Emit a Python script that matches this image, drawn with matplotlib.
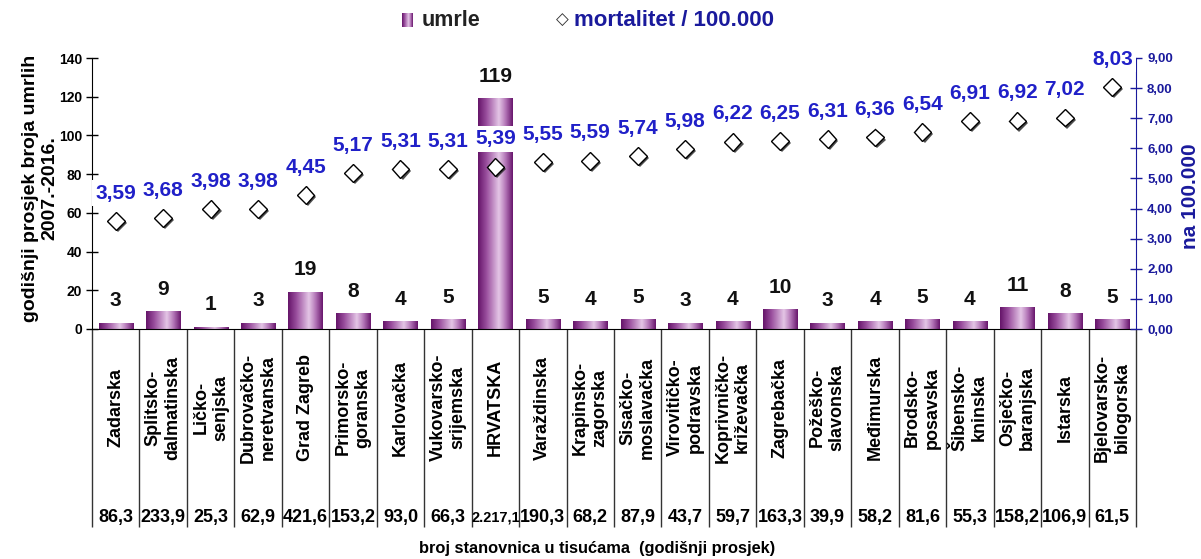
import numpy as np
import matplotlib
matplotlib.use("Agg")
import matplotlib.pyplot as plt
import matplotlib.transforms as mtransforms
import matplotlib.patheffects as pe
from matplotlib.colors import LinearSegmentedColormap

plt.rcParams['font.family'] = ['Liberation Sans', 'DejaVu Sans']
plt.rcParams['font.weight'] = 'bold'

zupanije = ["Zadarska", "Splitsko-\ndalmatinska", "Ličko-\nsenjska", "Dubrovačko-\nneretvanska",
            "Grad Zagreb", "Primorsko-\ngoranska", "Karlovačka", "Vukovarsko-\nsrijemska", "HRVATSKA",
            "Varaždinska", "Krapinsko-\nzagorska", "Sisačko-\nmoslavačka", "Virovitičko-\npodravska",
            "Koprivničko-\nkriževačka", "Zagrebačka", "Požeško-\nslavonska", "Međimurska",
            "Brodsko-\nposavska", "Šibensko-\nkninska", "Osječko-\nbaranjska", "Istarska",
            "Bjelovarsko-\nbilogorska"]
umrle = [3, 9, 1, 3, 19, 8, 4, 5, 119, 5, 4, 5, 3, 4, 10, 3, 4, 5, 4, 11, 8, 5]
mortalitet = [3.59, 3.68, 3.98, 3.98, 4.45, 5.17, 5.31, 5.31, 5.39, 5.55, 5.59, 5.74, 5.98,
              6.22, 6.25, 6.31, 6.36, 6.54, 6.91, 6.92, 7.02, 8.03]
stanovnici = ["86,3", "233,9", "25,3", "62,9", "421,6", "153,2", "93,0", "66,3", "2.217,1",
              "190,3", "68,2", "87,9", "43,7", "59,7", "163,3", "39,9", "58,2", "81,6", "55,3",
              "158,2", "106,9", "61,5"]

W, H = 1201, 559
fig = plt.figure(figsize=(W / 100, H / 100), dpi=100, facecolor="white")
ax = fig.add_axes([92 / W, 1 - 329 / H, (1136 - 92) / W, (329 - 58) / H])
ax2 = ax.twinx()

blue = "#2020c8"
navy = "#1a1a9c"

cyl = LinearSegmentedColormap.from_list(
    "cyl", [(0, "#66156a"), (0.25, "#9c52a0"), (0.6, "#e4c6e6"), (0.8, "#b274b6"), (1, "#6a186e")])
grad = np.linspace(0, 1, 64)[None, :]

x = np.arange(len(zupanije))
bw = 0.72
for xi, v in zip(x, umrle):
    ax.imshow(grad, cmap=cyl, extent=[xi - bw / 2, xi + bw / 2, 0, v], aspect="auto",
              interpolation="bilinear", zorder=2)
    ax.annotate(str(v), (xi, v), xytext=(0, 16), textcoords="offset points",
                ha="center", va="center", fontsize=15, color="#111111")

ax.set_xlim(-0.5, len(zupanije) - 0.5)
ax.set_ylim(0, 140)
ax.set_yticks(np.arange(0, 141, 20))
ax.set_xticks([])
ax.tick_params(axis="y", direction="inout", length=8, width=1, pad=3, labelsize=10)
for s in ("top", "right"):
    ax.spines[s].set_visible(False)

# mortality markers and labels
ax2.plot(x, mortalitet, ls="none", marker="D", ms=9, mfc="white", mec="black", mew=1, zorder=3,
         path_effects=[pe.SimplePatchShadow(offset=(1.5, -1.5), shadow_rgbFace="#222222", alpha=0.8),
                       pe.Normal()])
for xi, m in zip(x, mortalitet):
    ax2.annotate(f"{m:.2f}".replace(".", ","), (xi, m), xytext=(0, 20), textcoords="offset points",
                 ha="center", va="center", fontsize=15, color=blue, zorder=4,
                 bbox=dict(boxstyle="square,pad=0.15", fc="white", ec="none"))
ax2.set_ylim(0, 9)
ax2.set_yticks(np.arange(0, 10, 1))
ax2.set_yticklabels([f"{t:.2f}".replace(".", ",") for t in range(10)])
ax2.tick_params(axis="y", direction="inout", length=8, width=1, pad=4, labelsize=9.5,
                colors=navy)
ax2.spines["right"].set_color(navy)
for s in ("top", "left", "bottom"):
    ax2.spines[s].set_visible(False)

# table below the axis
tr = mtransforms.blended_transform_factory(ax.transData, ax.transAxes)
ax.vlines(np.arange(-0.5, len(zupanije)), -0.731, 0, transform=tr, clip_on=False,
          color="#333333", lw=1)
for xi, name, pop in zip(x, zupanije, stanovnici):
    ax.text(xi, -0.29, name, transform=tr, rotation=90, ha="center", va="center",
            multialignment="center", fontsize=13, linespacing=1.2)
    ax.text(xi, -0.694, pop, transform=tr, ha="center", va="center",
            fontsize=13 if len(pop) <= 5 else 10.5)

fig.text(597 / W, 1 - 548 / H, "broj stanovnica u tisućama  (godišnji prosjek)",
         ha="center", va="center", fontsize=11.75)
fig.text(40 / W, 1 - 188 / H, "godišnji prosjek broja umrlih\n2007.-2016.", rotation=90,
         ha="center", va="center", multialignment="center", fontsize=14)
fig.text(1191 / W, 1 - 196 / H, "na 100.000", rotation=90, ha="center", va="center",
         fontsize=15, color=navy)

# legend
lax = fig.add_axes([402 / W, 1 - 27 / H, 11 / W, 14 / H])
lax.imshow(grad, cmap=cyl, aspect="auto")
lax.axis("off")
fig.text(422 / W, 1 - 20 / H, "umrle", ha="left", va="center", fontsize=15.5, color="#222222")
fig.text(556 / W, 1 - 20 / H, "◇", ha="left", va="center", fontsize=12, color="#333333")
fig.text(574 / W, 1 - 20 / H, "mortalitet / 100.000", ha="left", va="center", fontsize=16,
         color=navy)

fig.savefig("out.png", dpi=100, facecolor="white")
